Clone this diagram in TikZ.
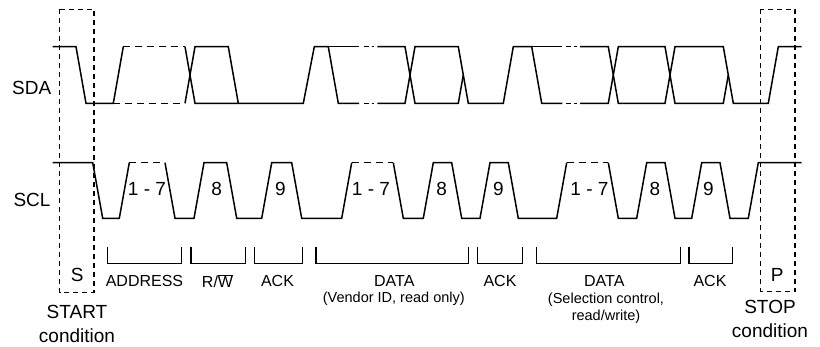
\documentclass[tikz,border=0pt]{standalone}
\usepackage{fontspec}
\setmainfont{Liberation Sans}
\begin{document}
\begin{tikzpicture}[x=1pt,y=-1pt,
  wave/.style={line width=1.5pt, line join=miter},
  dsh/.style={line width=1.5pt, dash pattern=on 7pt off 5pt},
  box/.style={line width=1.4pt, dash pattern=on 5pt off 4pt},
  brk/.style={line width=1.3pt},
  sig/.style={inner sep=0pt, font=\fontsize{19}{22}\selectfont},
  bit/.style={inner sep=0pt, font=\fontsize{19}{22}\selectfont},
  lab/.style={inner sep=0pt, font=\fontsize{16}{19}\selectfont},
  sub/.style={inner sep=0pt, font=\fontsize{14.5}{17}\selectfont, align=center},
  cond/.style={inner sep=0pt, font=\fontsize{19}{24}\selectfont, align=center}]
\useasboundingbox (0,0) rectangle (820,347);
\def\H{46.7}\def\L{103.3}\def\M{75}
\def\h{162.7}\def\l{218.3}
% signal labels
\node[sig] (sda) at (31.7,88) {SDA};
\node[sig] (scl) at (32,200) {SCL};
% START / STOP boxes
\draw[box] (59.5,9.5) rectangle (94,292.7);
\draw[box] (760.7,9.5) rectangle (795,291.7);
% SDA
\draw[wave] (52.7,\H) -- (76,\H) -- (86,\L) -- (113.3,\L) -- (123.3,\H);
\draw[dsh] (123.3,\H) -- (185,\H);
\draw[dsh] (113.3,\L) -- (185,\L);
\draw[wave] (185,\H) -- (195,\L) -- (303.3,\L) -- (314.3,\H) -- (328.3,\H) -- (338.3,\L) -- (359,\L);
\draw[wave] (185,\L) -- (195,\H) -- (228.3,\H) -- (238.3,\L);
\draw[wave] (328.3,\H) -- (359,\H);
\foreach \y in {\H,\L}{
  \draw[wave] (364,\y) -- (368.5,\y);
  \draw[wave] (371.5,\y) -- (374,\y);
  \draw[wave] (566,\y) -- (570.7,\y);
  \draw[wave] (574.3,\y) -- (576.8,\y);
}
\draw[wave] (377.3,\H) -- (405,\H) -- (415,\L) -- (458.3,\L) -- (463.3,\M);
\draw[wave] (377.3,\L) -- (405,\L) -- (415,\H) -- (458.3,\H) -- (468.3,\L) -- (503.3,\L) -- (513.3,\H) -- (531.7,\H) -- (541.7,\L) -- (562.3,\L);
\draw[wave] (531.7,\H) -- (562.3,\H);
\draw[wave] (580,\H) -- (608.3,\H) -- (618.3,\L) -- (665,\L) -- (675,\H) -- (723.3,\H) -- (733.3,\L) -- (768.3,\L) -- (778.3,\H) -- (801.7,\H);
\draw[wave] (580,\L) -- (608.3,\L) -- (618.3,\H) -- (665,\H) -- (675,\L) -- (723.3,\L) -- (728.3,\M);
% SCL
\draw[wave] (52.7,\h) -- (92.7,\h) -- (102.7,\l) -- (119.3,\l) -- (129.3,\h);
\draw[dsh] (129.3,\h) -- (165,\h);
\draw[wave] (165,\h) -- (175,\l) -- (194,\l) -- (204,\h) -- (226.7,\h) -- (236.7,\l) -- (261.7,\l) -- (271.7,\h) -- (291.7,\h) -- (301.7,\l) -- (341.7,\l) -- (351.7,\h);
\draw[dsh] (351.7,\h) -- (393.3,\h);
\draw[wave] (393.3,\h) -- (403.3,\l) -- (423.3,\l) -- (433.3,\h) -- (451.7,\h) -- (461.7,\l) -- (480,\l) -- (490,\h) -- (508.3,\h) -- (518.3,\l) -- (556.7,\l) -- (566.7,\h);
\draw[dsh] (566.7,\h) -- (608.3,\h);
\draw[wave] (608.3,\h) -- (618.3,\l) -- (636.7,\l) -- (646.7,\h) -- (665,\h) -- (675,\l) -- (691.7,\l) -- (701.7,\h) -- (720,\h) -- (730,\l) -- (748.3,\l) -- (758.3,\h) -- (801.7,\h);
% bit numbers
\node[bit] (b1) at (147,189) {1 - 7};
\node[bit] (b2) at (216.7,189) {8};
\node[bit] (b3) at (280.5,189) {9};
\node[bit] (b4) at (371,189) {1 - 7};
\node[bit] (b5) at (441.7,189) {8};
\node[bit] (b6) at (498.5,189) {9};
\node[bit] (b7) at (589.5,189) {1 - 7};
\node[bit] (b8) at (655,189) {8};
\node[bit] (b9) at (708.5,189) {9};
% brackets
\draw[brk] (107.3,246.7) |- (181.7,263.3) -- (181.7,246.7);
\draw[brk] (191,246.7) |- (245.7,263.3) -- (245.7,246.7);
\draw[brk] (254.3,246.7) |- (302.3,263.3) -- (302.3,246.7);
\draw[brk] (316,246.7) |- (468.3,263.3) -- (468.3,246.7);
\draw[brk] (477.3,246.7) |- (522.3,263.3) -- (522.3,246.7);
\draw[brk] (536.7,246.7) |- (680.7,263.3) -- (680.7,246.7);
\draw[brk] (689,246.7) |- (732.3,263.3) -- (732.3,246.7);
% field labels
\node[lab] (l1) at (144.5,281) {ADDRESS};
\node[lab] (l2) at (217.5,281) {R/$\overline{\hbox{W}}$};
\node[lab] (l3) at (277.5,281) {ACK};
\node[lab] (l4) at (394.3,281) {DATA};
\node[sub] (s4) at (393.8,299) {(Vendor ID, read only)};
\node[lab] (l5) at (500,281) {ACK};
\node[lab] (l6) at (604.3,281) {DATA};
\node[sub] (s6) at (606,308.5) {(Selection control,\\read/write)};
\node[lab] (l7) at (710,281) {ACK};
% conditions
\node[sig] (S) at (77.3,275) {S};
\node[sig] (P) at (777.3,275) {P};
\node[cond] (start) at (77,324) {START\\condition};
\node[cond] (stop) at (770,319) {STOP\\condition};
\end{tikzpicture}
\end{document}
